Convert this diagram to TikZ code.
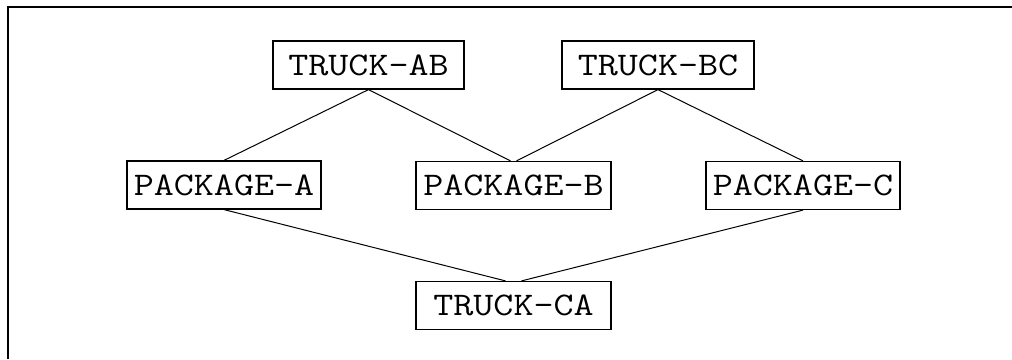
\documentclass[tikz,border=0pt]{standalone}
\usepackage{graphicx}
\begin{document}
\begin{tikzpicture}[x=1pt,y=-1pt,
  nodebox/.style={draw, line width=1.2pt, rectangle, inner sep=0pt,
    minimum height=48pt, font=\ttfamily\fontsize{33}{33}\selectfont},
  link/.style={line width=1pt}]
\newcommand{\wide}[1]{\scalebox{1.18}[1]{#1}}
\useasboundingbox (0,0) rectangle (1012,359);
\draw[line width=2pt] (8,359) -- (8,7) -- (1012,7);
\node[nodebox, minimum width=191pt] (tab) at (368.5,65) {\wide{TRUCK-AB}};
\node[nodebox, minimum width=192pt] (tbc) at (658,65) {\wide{TRUCK-BC}};
\node[nodebox, minimum width=194pt] (pa) at (224,185) {\wide{PACKAGE-A}};
\node[nodebox, minimum width=195pt] (pb) at (513.5,185.5) {\wide{PACKAGE-B}};
\node[nodebox, minimum width=194pt] (pc) at (803,185.5) {\wide{PACKAGE-C}};
\node[nodebox, minimum width=195pt] (tca) at (513.5,305.5) {\wide{TRUCK-CA}};
\draw[link] (tab.south) -- (pa.north);
\draw[link] (tab.south) -- ([xshift=-3pt]pb.north);
\draw[link] (tbc.south) -- ([xshift=3pt]pb.north);
\draw[link] (tbc.south) -- (pc.north);
\draw[link] (pa.south) -- ([xshift=-8pt]tca.north);
\draw[link] (pc.south) -- ([xshift=8pt]tca.north);
\end{tikzpicture}
\end{document}
